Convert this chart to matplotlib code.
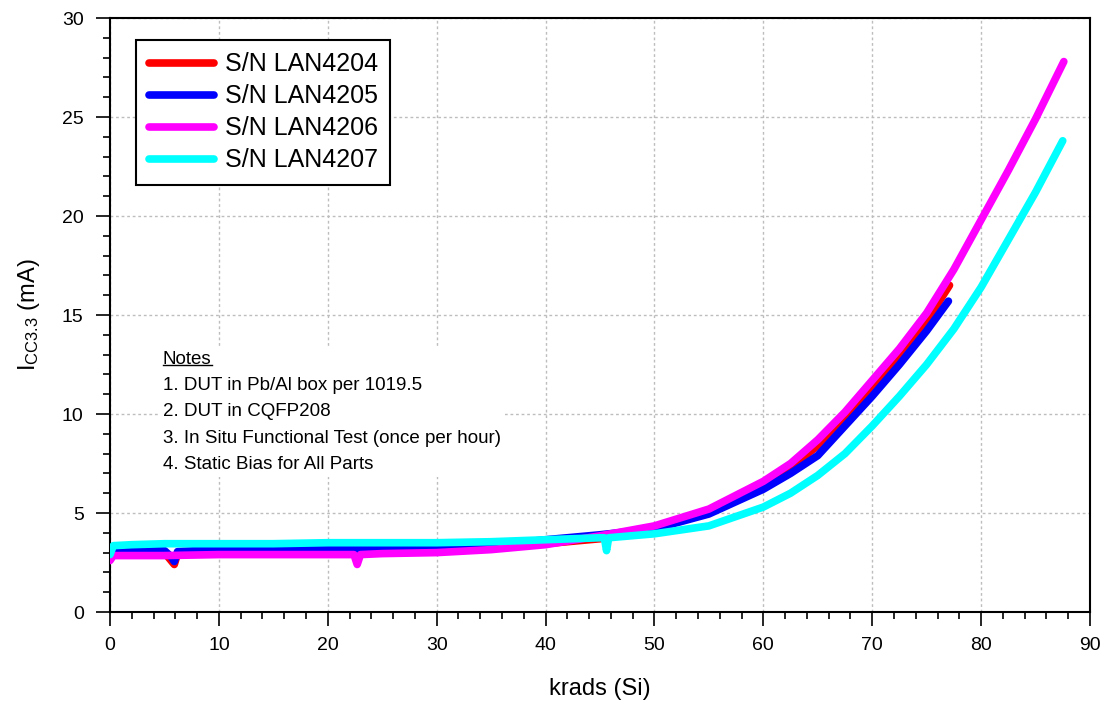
import matplotlib
matplotlib.use("Agg")
import matplotlib.pyplot as plt
from matplotlib.ticker import MultipleLocator
from matplotlib.lines import Line2D

plt.rcParams["font.family"] = ["Liberation Sans", "DejaVu Sans"]
plt.rcParams["mathtext.fontset"] = "custom"
plt.rcParams["mathtext.rm"] = "Liberation Sans"
plt.rcParams["mathtext.it"] = "Liberation Sans:italic"

# supply current vs. total dose, one trace per serial number
krad_4204 = [0, 0.3, 2, 5, 5.6, 5.9, 6.2, 8, 10, 15, 20, 25, 30, 35, 40, 45, 50,
             55, 60, 62.5, 65, 67.5, 70, 72.5, 75, 77.1]
icc_4204 = [2.7, 2.95, 3.0, 3.0, 2.6, 2.4, 2.95, 3.0, 3.0, 3.0, 3.05, 3.05, 3.1,
            3.2, 3.45, 3.7, 4.25, 5.1, 6.45, 7.3, 8.4, 9.8, 11.3, 12.9, 14.7, 16.5]

krad_4205 = [0, 0.3, 2, 5, 5.6, 5.9, 6.2, 8, 10, 15, 20, 25, 30, 35, 40, 45, 50,
             55, 60, 62.5, 65, 67.5, 70, 72.5, 75, 77.0]
icc_4205 = [2.9, 3.05, 3.1, 3.1, 2.8, 2.55, 3.05, 3.1, 3.1, 3.15, 3.15, 3.2, 3.2,
            3.35, 3.65, 3.9, 4.2, 4.95, 6.2, 7.0, 7.9, 9.4, 10.9, 12.5, 14.2, 15.7]

krad_4206 = [0, 0.3, 2, 5, 10, 15, 20, 22.4, 22.7, 23.0, 25, 30, 35, 40, 45, 50,
             55, 60, 62.5, 65, 67.5, 70, 72.5, 75, 77.5, 80, 82.5, 85, 87.6]
icc_4206 = [2.6, 2.85, 2.85, 2.85, 2.9, 2.9, 2.9, 2.9, 2.4, 2.9, 2.95, 3.0, 3.15,
            3.4, 3.85, 4.35, 5.2, 6.6, 7.5, 8.7, 10.1, 11.7, 13.3, 15.1, 17.3,
            19.8, 22.3, 24.9, 27.8]

krad_4207 = [0, 0.3, 2, 5, 10, 15, 20, 25, 30, 35, 40, 45, 45.4, 45.6, 45.8, 50,
             55, 60, 62.5, 65, 67.5, 70, 72.5, 75, 77.5, 80, 82.5, 85, 87.5]
icc_4207 = [2.9, 3.35, 3.4, 3.45, 3.45, 3.45, 3.5, 3.5, 3.5, 3.55, 3.65, 3.75,
            3.75, 3.1, 3.75, 3.95, 4.35, 5.3, 6.0, 6.9, 8.0, 9.4, 10.9, 12.5,
            14.3, 16.4, 18.8, 21.2, 23.8]

series = [
    ("S/N LAN4204", krad_4204, icc_4204, "#ff0000"),
    ("S/N LAN4205", krad_4205, icc_4205, "#0000ff"),
    ("S/N LAN4206", krad_4206, icc_4206, "#ff00ff"),
    ("S/N LAN4207", krad_4207, icc_4207, "#00ffff"),
]

notes = ["1. DUT in Pb/Al box per 1019.5",
         "2. DUT in CQFP208",
         "3. In Situ Functional Test (once per hour)",
         "4. Static Bias for All Parts"]

fig = plt.figure(figsize=(11.06, 7.09), dpi=100)
ax = fig.add_axes([0.0995, 0.1368, 0.886, 0.8378])

for label, x, y, c in series:
    ax.plot(x, y, color=c, lw=5.5, solid_capstyle="round",
            solid_joinstyle="round", label=label, zorder=3)

ax.set_xlim(0, 90)
ax.set_ylim(0, 30)
ax.xaxis.set_major_locator(MultipleLocator(10))
ax.xaxis.set_minor_locator(MultipleLocator(2))
ax.yaxis.set_major_locator(MultipleLocator(5))
ax.yaxis.set_minor_locator(MultipleLocator(1))
ax.tick_params(which="both", direction="out", width=1.2, colors="black")
ax.tick_params(which="major", length=10, labelsize=14)
ax.tick_params(axis="x", which="major", pad=8)
ax.tick_params(axis="y", which="major", pad=9)
ax.tick_params(which="minor", length=5)
for s in ax.spines.values():
    s.set_linewidth(1.5)

ax.grid(True, which="major", color="#bdbdbd", lw=1.0, ls=(0, (2, 2)), zorder=0)

ax.set_xlabel("krads (Si)", fontsize=17, labelpad=17)
ax.set_ylabel(r"I$_{\mathrm{CC3.3}}$ (mA)", fontsize=17, labelpad=14)

leg = ax.legend(loc="upper left", bbox_to_anchor=(0.0265, 0.963),
                borderaxespad=0, fontsize=18, handlelength=2.6,
                handletextpad=0.45, borderpad=0.5, labelspacing=0.32,
                fancybox=False, framealpha=1, edgecolor="black")
leg.get_frame().set_linewidth(1.5)
for h in leg.get_lines():
    h.set_linewidth(5.5)

# notes block on a white patch, with an underlined heading
nx, ny, nsize = 0.054, 0.44, 13.5
body = ax.text(nx, ny, "Notes\n" + "\n".join(notes), transform=ax.transAxes,
               fontsize=nsize, va="top", ha="left", linespacing=1.72, zorder=4,
               bbox=dict(facecolor="white", edgecolor="none", pad=3))
fig.canvas.draw()
r = fig.canvas.get_renderer()
head = ax.text(nx, ny, "Notes", transform=ax.transAxes, fontsize=nsize,
               va="top", ha="left", alpha=0)
bb = head.get_window_extent(r)
inv = ax.transAxes.inverted()
(x0, y0), (x1, _) = inv.transform([(bb.x0, bb.y0 + 3), (bb.x1, bb.y0)])
ax.add_line(Line2D([x0, x1], [y0, y0], transform=ax.transAxes,
                   color="black", lw=1.0, zorder=5))

fig.savefig("out.png", dpi=100)
